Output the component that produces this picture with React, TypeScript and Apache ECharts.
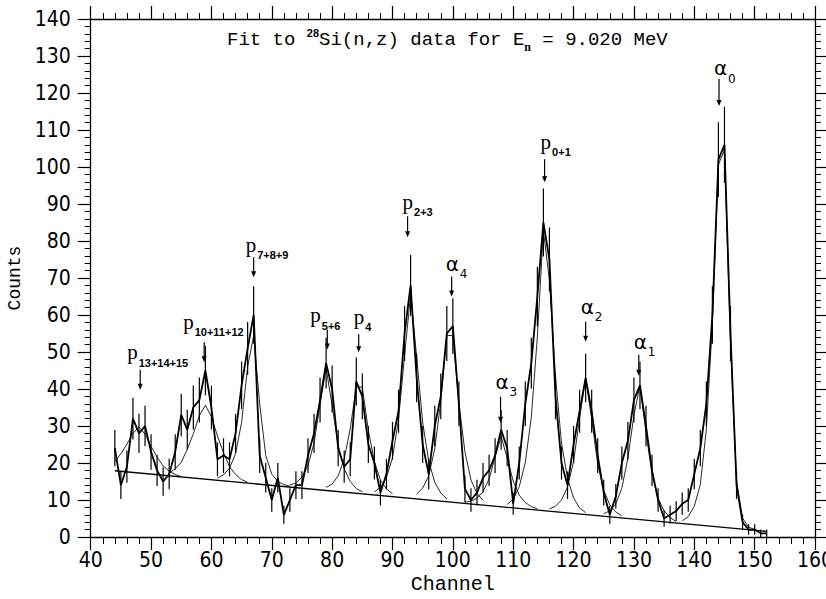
import React, { useEffect, useRef } from 'react';
import * as echarts from 'echarts';

// ---- data ----
const FIRST_CHANNEL = 44;
// measured counts per channel, channels 44 .. 152
const COUNTS = [
  24, 14, 19, 32, 28, 30, 23, 18, 15, 17,
  23, 33, 29, 35, 37, 45, 35, 21, 22, 21,
  28, 41, 51, 60, 22, 16, 10, 16, 6, 10,
  14, 14, 22, 28, 37, 47, 40, 24, 19, 21,
  42, 38, 25, 20, 12, 17, 26, 34, 55, 68,
  43, 25, 17, 30, 38, 55, 57, 36, 13, 10,
  12, 16, 18, 22, 29, 24, 9, 20, 36, 47,
  65, 85, 75, 38, 20, 14, 25, 34, 43, 34,
  22, 12, 6, 11, 20, 26, 37, 41, 30, 18,
  10, 5, 6, 7, 9, 10, 17, 24, 36, 60,
  102, 106, 55, 14, 4, 2, 2, 1, 1,
];

// linear background under the peaks
const BACKGROUND = [[44, 17.9], [152, 1.5]];

// fitted peak components (background included)
const COMP_P13 = [[44, 20.4], [45, 22.5], [46, 25.1], [47, 28.0], [48, 29.8], [49, 27.8], [50, 24.5], [51, 21.6], [52, 19.2], [53, 17.8], [54, 16.9], [55, 16.3]];
const COMP_P10 = [[53, 17.3], [54, 18.4], [55, 20.2], [56, 23.7], [57, 27.9], [58, 32.8], [59, 35.6], [60, 32.5], [61, 27.3], [62, 22.8], [63, 19.0], [64, 16.9], [65, 15.5], [66, 14.8]];
const COMP_P7 = [[61, 15.9], [62, 16.8], [63, 18.6], [64, 22.5], [65, 31.0], [66, 46.0], [67, 54.4], [68, 36.0], [69, 22.0], [70, 17.0], [71, 15.0], [72, 14.2], [73, 13.7]];
const COMP_P56 = [[73, 14.0], [74, 14.6], [75, 16.2], [76, 19.3], [77, 25.4], [78, 35.8], [79, 45.6], [80, 35.5], [81, 24.8], [82, 18.4], [83, 15.0], [84, 13.1], [85, 12.2]];
const COMP_P4 = [[79, 13.4], [80, 14.3], [81, 16.5], [82, 21.1], [83, 29.3], [84, 40.6], [85, 40.5], [86, 28.8], [87, 20.4], [88, 15.4], [89, 13.0], [90, 11.7]];
const COMP_P23 = [[87, 12.2], [88, 13.4], [89, 16.1], [90, 21.4], [91, 31.7], [92, 49.1], [93, 65.5], [94, 48.8], [95, 31.0], [96, 20.5], [97, 14.8], [98, 11.9], [99, 10.3]];
const COMP_A4 = [[94, 11.6], [95, 13.2], [96, 16.5], [97, 23.8], [98, 36.7], [99, 54.5], [100, 54.4], [101, 36.2], [102, 23.1], [103, 15.4], [104, 11.8], [105, 9.9]];
const COMP_A3 = [[102, 9.4], [103, 9.7], [104, 10.5], [105, 12.2], [106, 15.7], [107, 21.6], [108, 27.2], [109, 21.3], [110, 15.1], [111, 11.3], [112, 9.3], [113, 8.2], [114, 7.6]];
const COMP_P01 = [[109, 8.8], [110, 10.2], [111, 13.6], [112, 20.1], [113, 32.4], [114, 54.1], [115, 82.8], [116, 69.4], [117, 43.5], [118, 25.4], [119, 15.9], [120, 10.6], [121, 7.8], [122, 6.6]];
const COMP_A2 = [[116, 7.6], [117, 8.3], [118, 10.0], [119, 13.5], [120, 20.4], [121, 32.1], [122, 43.0], [123, 31.8], [124, 19.7], [125, 12.6], [126, 8.7], [127, 6.8], [128, 5.7]];
const COMP_A1 = [[125, 6.3], [126, 7.1], [127, 9.0], [128, 13.2], [129, 21.3], [130, 32.9], [131, 41.0], [132, 28.2], [133, 17.0], [134, 10.5], [135, 7.1], [136, 5.2], [137, 4.2]];
const COMP_A0 = [[138, 4.4], [139, 5.5], [140, 8.3], [141, 14.2], [142, 29.0], [143, 57.9], [144, 100.7], [145, 104.6], [146, 52.4], [147, 15.2], [148, 5.1], [149, 2.7], [150, 2.0]];
const COMPONENTS = [COMP_P13, COMP_P10, COMP_P7, COMP_P56, COMP_P4, COMP_P23, COMP_A4, COMP_A3, COMP_P01, COMP_A2, COMP_A1, COMP_A0];

// peak annotations
const ANNOT_KIND = ['p', 'p', 'p', 'p', 'p', 'p', 'p', 'α', 'α', 'α', 'α', 'α'];
const ANNOT_SUB = ['13+14+15', '10+11+12', '7+8+9', '5+6', '4', '2+3', '0+1', '4', '3', '2', '1', '0'];
const ANNOT_CHANNEL = [48.2, 58.8, 67.0, 79.2, 84.4, 92.5, 115.2, 99.8, 107.9, 122.0, 130.8, 144.1];
const ANNOT_TIP = [39.8, 47.2, 70.2, 50.7, 49.9, 81.0, 95.9, 65.0, 30.9, 52.8, 43.6, 116.5];

// annotation layout (pixels)
const ARROW_LEN = [20, 20, 20, 20, 18, 21, 23, 20, 26, 20, 21, 27];
const LABEL_DX = [-13, -21, -8, -17, -5, -5, -4, -6, -5, -5, -5, -5];
const LABEL_DY = [-20, -23, -15, -17, -20, -17, -20, -17, -19, -19, -17, -15];

const X_MIN = 40, X_MAX = 160, X_STEP = 10;
const Y_MIN = 0, Y_MAX = 140, Y_STEP = 10;

const TICK_FONT = '"Liberation Sans Narrow", "DejaVu Sans Condensed", sans-serif';
const MONO = '"Liberation Mono", "DejaVu Sans Mono", monospace';

function axisCommon(showLabels: boolean, tickLen: number, minorLen: number) {
  return {
    axisLine: { show: true, onZero: false, lineStyle: { color: '#000', width: 1.3 } },
    axisTick: { show: true, inside: false, length: tickLen, lineStyle: { color: '#000', width: 1.2 } },
    minorTick: { show: true, splitNumber: 5, length: minorLen, lineStyle: { color: '#000', width: 1 } },
    splitLine: { show: false },
    minorSplitLine: { show: false },
    axisLabel: { show: showLabels },
  };
}

export default function App() {
  const ref = useRef<HTMLDivElement>(null);
  useEffect(() => {
    if (!ref.current) return;
    const chart = echarts.init(ref.current, null, { renderer: 'svg' });
    const dataPts = COUNTS.map((v, i) => [FIRST_CHANNEL + i, v]);
    const errPts = COUNTS.map((v, i) => [FIRST_CHANNEL + i, v, Math.sqrt(v)]);

    const compSeries = COMPONENTS.map((c) => ({
      type: 'line',
      data: c,
      symbol: 'none',
      smooth: false,
      silent: true,
      lineStyle: { color: '#111', width: 0.9 },
      z: 2,
    }));

    const option: any = {
      animation: false,
      backgroundColor: '#fff',
      title: {
        left: 227,
        top: 27,
        padding: 0,
        text: '{a|Fit to }{sup|28}{a|Si(n,z) data for E}{sub|n}{a| = 9.020 MeV}',
        textStyle: {
          fontFamily: MONO,
          fontSize: 19,
          fontWeight: 'normal',
          color: '#000',
          rich: {
            a: { fontFamily: MONO, fontSize: 19, color: '#000', lineHeight: 26 },
            sup: { fontFamily: 'Liberation Sans', fontWeight: 'bold', fontSize: 11, color: '#000', lineHeight: 14, verticalAlign: 'top' },
            sub: { fontFamily: 'Liberation Serif', fontWeight: 'bold', fontSize: 12, color: '#000', lineHeight: 7, verticalAlign: 'bottom' },
          },
        },
      },
      grid: { left: 90.7, right: 11, top: 19, bottom: 62, containLabel: false, outerBoundsMode: 'none', show: false },
      xAxis: [
        {
          type: 'value', min: X_MIN, max: X_MAX, interval: X_STEP, position: 'bottom',
          ...axisCommon(true, 13, 7),
          axisLabel: { show: true, margin: 12, fontFamily: TICK_FONT, fontSize: 21, color: '#000' },
          name: 'Channel', nameLocation: 'middle', nameGap: 36,
          nameTextStyle: { fontFamily: MONO, fontSize: 20, color: '#000' },
        },
        {
          type: 'value', min: X_MIN, max: X_MAX, interval: X_STEP, position: 'top',
          ...axisCommon(false, 13, 6),
        },
      ],
      yAxis: [
        {
          type: 'value', min: Y_MIN, max: Y_MAX, interval: Y_STEP, position: 'left',
          ...axisCommon(true, 13, 6),
          axisLabel: { show: true, margin: 20, fontFamily: TICK_FONT, fontSize: 21, color: '#000' },
          name: 'Counts', nameLocation: 'middle', nameGap: 60,
          nameTextStyle: { fontFamily: MONO, fontSize: 18, color: '#000' },
        },
        {
          type: 'value', min: Y_MIN, max: Y_MAX, interval: Y_STEP, position: 'right',
          ...axisCommon(false, 13, 6),
        },
      ],
      series: [
        {
          type: 'line', data: BACKGROUND, symbol: 'none', silent: true,
          lineStyle: { color: '#000', width: 1.3 }, z: 2,
        },
        ...compSeries,
        {
          type: 'line', data: dataPts, symbol: 'none', silent: true,
          lineStyle: { color: '#000', width: 1.8 }, z: 3,
        },
        {
          type: 'custom', data: errPts, silent: true, z: 4, clip: true,
          renderItem: (params: any, api: any) => {
            const ch = api.value(0);
            const v = api.value(1);
            const e = api.value(2);
            const p1 = api.coord([ch, v - e]);
            const p2 = api.coord([ch, v + e]);
            return {
              type: 'line',
              shape: { x1: p1[0], y1: p1[1], x2: p2[0], y2: p2[1] },
              style: { stroke: '#000', lineWidth: 1.2 },
            };
          },
        },
      ],
    };
    chart.setOption(option);

    const els: any[] = [];
    ANNOT_CHANNEL.forEach((ch, i) => {
      const pt = chart.convertToPixel({ gridIndex: 0 } as any, [ch, ANNOT_TIP[i]]) as number[];
      const x = pt[0];
      const yTip = pt[1];
      const yTop = yTip - ARROW_LEN[i];
      els.push({ type: 'line', silent: true, shape: { x1: x, y1: yTop, x2: x, y2: yTip - 5 }, style: { stroke: '#000', lineWidth: 1.2 } });
      els.push({ type: 'polygon', silent: true, shape: { points: [[x - 2.5, yTip - 6], [x + 2.5, yTip - 6], [x, yTip]] }, style: { fill: '#000' } });
      const left = x + LABEL_DX[i];
      const top = yTop + LABEL_DY[i];
      if (ANNOT_KIND[i] === 'p') {
        els.push({ type: 'text', silent: true, style: { text: 'p', x: left, y: top + 2.5, font: '21px "Liberation Serif", serif', fill: '#000', textAlign: 'left', textVerticalAlign: 'middle', align: 'left', verticalAlign: 'middle' } });
        els.push({ type: 'text', silent: true, style: { text: ANNOT_SUB[i], x: left + 11.5, y: top + 9 + 4.1, font: 'bold 11px "Liberation Sans", sans-serif', fill: '#000', textAlign: 'left', textVerticalAlign: 'middle', align: 'left', verticalAlign: 'middle' } });
      } else {
        els.push({ type: 'text', silent: true, style: { text: 'α', x: left, y: top + 4, font: '20px "DejaVu Sans", sans-serif', fill: '#000', textAlign: 'left', textVerticalAlign: 'middle', align: 'left', verticalAlign: 'middle' } });
        els.push({ type: 'text', silent: true, style: { text: ANNOT_SUB[i], x: left + 14, y: top + 10 + 4.6, font: '12px "DejaVu Sans", sans-serif', fill: '#000', textAlign: 'left', textVerticalAlign: 'middle', align: 'left', verticalAlign: 'middle' } });
      }
    });
    chart.setOption({ graphic: els });

    return () => chart.dispose();
  }, []);
  return <div ref={ref} style={{ position: 'fixed', left: 0, top: 0, width: 826, height: 599, background: '#fff' }} />;
}
